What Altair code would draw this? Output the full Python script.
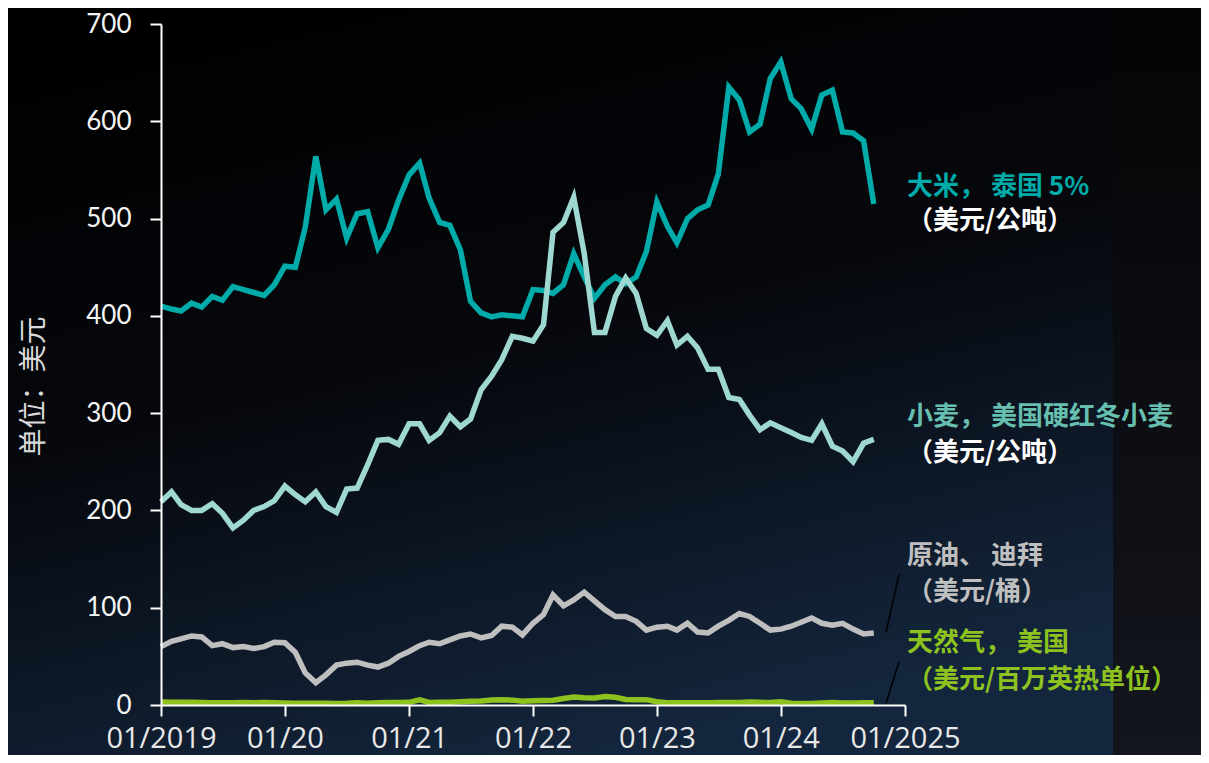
import altair as alt
import pandas as pd

# ---------------- data ----------------
months = pd.date_range("2019-01-01", periods=70, freq="MS")

rice = [410, 407, 405, 413, 409, 420, 416, 430, 427, 424,
        421, 432, 451, 450, 491, 564, 509, 520, 480, 505,
        507, 470, 489, 519, 545, 557, 521, 496, 493, 468,
        415, 403, 399, 401, 400, 399, 427, 426, 423, 432,
        464, 440, 418, 432, 440, 433, 440, 466, 517, 492,
        475, 500, 509, 514, 546, 635, 622, 589, 597, 644,
        661, 623, 613, 592, 627, 632, 589, 588, 580, 515]

wheat = [209, 219, 206, 200, 200, 207, 197, 182, 190, 200,
         204, 210, 225, 216, 209, 219, 204, 198, 222, 223,
         247, 272, 273, 268, 289, 289, 272, 280, 297, 286,
         294, 324, 338, 355, 379, 377, 374, 391, 486, 496,
         522, 464, 383, 383, 420, 439, 423, 387, 380, 395,
         370, 379, 367, 345, 345, 316, 314, 298, 283, 290,
         285, 280, 275, 272, 289, 266, 261, 250, 269, 273]

oil = [60, 65.5, 68, 71, 70, 61, 63, 59, 60, 58,
       60, 64.5, 64, 54, 33, 23, 31, 41, 43, 44,
       41, 39, 43, 50, 55, 61, 64.5, 63, 67, 71,
       73, 69, 71.5, 81, 80, 72, 84, 93, 113, 102,
       108, 116, 107, 98, 91, 91, 86, 77, 80, 81,
       77, 84, 75, 74, 81, 87, 94, 91, 84, 77,
       78, 81, 85, 89.5, 84, 82, 84, 78, 73, 74]

gas = [3.1, 2.7, 2.9, 2.7, 2.6, 2.4, 2.4, 2.2, 2.6, 2.3, 2.6, 2.2,
       2.0, 1.9, 1.8, 1.7, 1.7, 1.6, 1.8, 2.3, 1.9, 2.4, 2.6, 2.6,
       2.7, 5.4, 2.6, 2.7, 2.9, 3.3, 3.8, 4.1, 5.1, 5.5, 5.0, 3.8,
       4.4, 4.7, 4.9, 6.6, 8.1, 7.4, 7.3, 8.8, 7.9, 5.7, 5.5, 5.5,
       3.3, 2.4, 2.3, 2.2, 2.2, 2.2, 2.6, 2.6, 2.6, 3.0, 2.7, 2.5,
       3.2, 1.7, 1.5, 1.6, 2.1, 2.5, 2.1, 2.0, 2.3, 2.2]

x_tick_years = [2019, 2020, 2021, 2022, 2023, 2024, 2025]
x_tick_labels = ["01/2019", "01/20", "01/21", "01/22", "01/23", "01/24", "01/2025"]
y_ticks = [0, 100, 200, 300, 400, 500, 600, 700]

label_lines = ["大米， 泰国 5%", "（美元/公吨）",
               "小麦， 美国硬红冬小麦", "（美元/公吨）",
               "原油、 迪拜", "（美元/桶）",
               "天然气， 美国", "（美元/百万英热单位）"]
label_values = [532, 497, 296, 259, 153, 116, 64, 26]
label_colors = ["#00ABA9", "#FFFFFF", "#66BFAF", "#FFFFFF",
                "#BFBFBF", "#BFBFBF", "#8DC21F", "#8DC21F"]

leader_from = [74.5, 1.5]
leader_to = [134, 44.5]

# ---------------- chart ----------------
W, H = 744, 681
FONT_CJK = "Noto Sans CJK SC"

x_scale = alt.Scale(domain=[alt.DateTime(year=2019, month=1, date=1),
                            alt.DateTime(year=2025, month=1, date=1)])
y_scale = alt.Scale(domain=[0, 700], nice=False, zero=True)

label_expr = "[" + ",".join(f"'{t}'" for t in x_tick_labels) + "][year(datum.value)-2019]"

x_axis = alt.Axis(
    values=[alt.DateTime(year=y, month=1, date=1) for y in x_tick_years],
    labelExpr=label_expr, title=None, grid=False,
    domainColor="#FFFFFF", domainWidth=2, tickColor="#FFFFFF", tickWidth=2, tickSize=11,
    labelFont="Open Sans", labelFontSize=29, labelColor="#E8E8E8", labelPadding=8,
    labelFlush=False, labelOverlap=False, zindex=1,
)
y_axis = alt.Axis(
    values=y_ticks, grid=False,
    domainColor="#FFFFFF", domainWidth=2, tickColor="#FFFFFF", tickWidth=2, tickSize=11,
    labelFont="Lato", labelFontSize=26, labelColor="#F5F5F5", labelPadding=19,
    title="单位：美元", titleFont=FONT_CJK, titleFontSize=28, titleFontWeight="normal",
    titleColor="#D9D9D9", titleAngle=270, titleX=-127, titleY=362,
    titleAlign="center", titleBaseline="middle", zindex=1,
)

one = pd.DataFrame({"a": [0]})

bg = alt.Chart(one).mark_rect(
    color=alt.LinearGradient(
        gradient="linear", x1=0.15, y1=0, x2=0.5, y2=1,
        stops=[alt.GradientStop(offset=0, color="#000000"),
               alt.GradientStop(offset=0.5, color="#06080D"),
               alt.GradientStop(offset=1, color="#14263D")])
).encode(x=alt.value(-153), x2=alt.value(952), y=alt.value(-16), y2=alt.value(740))

strip = alt.Chart(one).mark_rect(
    color=alt.LinearGradient(
        gradient="linear", x1=0, y1=0, x2=0, y2=1,
        stops=[alt.GradientStop(offset=0, color="#040405"),
               alt.GradientStop(offset=1, color="#14161E")])
).encode(x=alt.value(952), x2=alt.value(1060), y=alt.value(-16), y2=alt.value(740))


def series_layer(values, color):
    df = pd.DataFrame({"date": months, "value": values})
    return alt.Chart(df).mark_line(color=color, strokeWidth=5.5, strokeJoin="miter").encode(
        x=alt.X("date:T", scale=x_scale, axis=x_axis),
        y=alt.Y("value:Q", scale=y_scale, axis=y_axis),
    )


gas_l = series_layer(gas, "#8DC21F")
oil_l = series_layer(oil, "#BFBFBF")
rice_l = series_layer(rice, "#00ABA9")
wheat_l = series_layer(wheat, "#9ED8D1")

ann = pd.DataFrame({"text": label_lines, "y": label_values, "color": label_colors})
labels = alt.Chart(ann).mark_text(
    align="left", baseline="middle", font=FONT_CJK, fontSize=26, fontWeight="bold"
).encode(
    x=alt.value(746),
    y=alt.Y("y:Q", scale=y_scale, axis=y_axis),
    text="text:N",
    color=alt.Color("color:N", scale=None),
)

lead = pd.DataFrame({"y": leader_from, "y2": leader_to})
leaders = alt.Chart(lead).mark_rule(color="#000000", strokeWidth=1.5).encode(
    x=alt.value(725), x2=alt.value(738),
    y=alt.Y("y:Q", scale=y_scale, axis=y_axis), y2="y2:Q",
)

chart = alt.layer(bg, strip, gas_l, oil_l, rice_l, wheat_l, leaders, labels).properties(
    width=W, height=H,
    autosize=alt.AutoSizeParams(type="none"),
    padding={"left": 153, "top": 16, "right": 296, "bottom": 50},
    background="#000000",
).configure_view(stroke=None)

chart.save("out.html", embed_options={"renderer": "svg", "actions": False})
